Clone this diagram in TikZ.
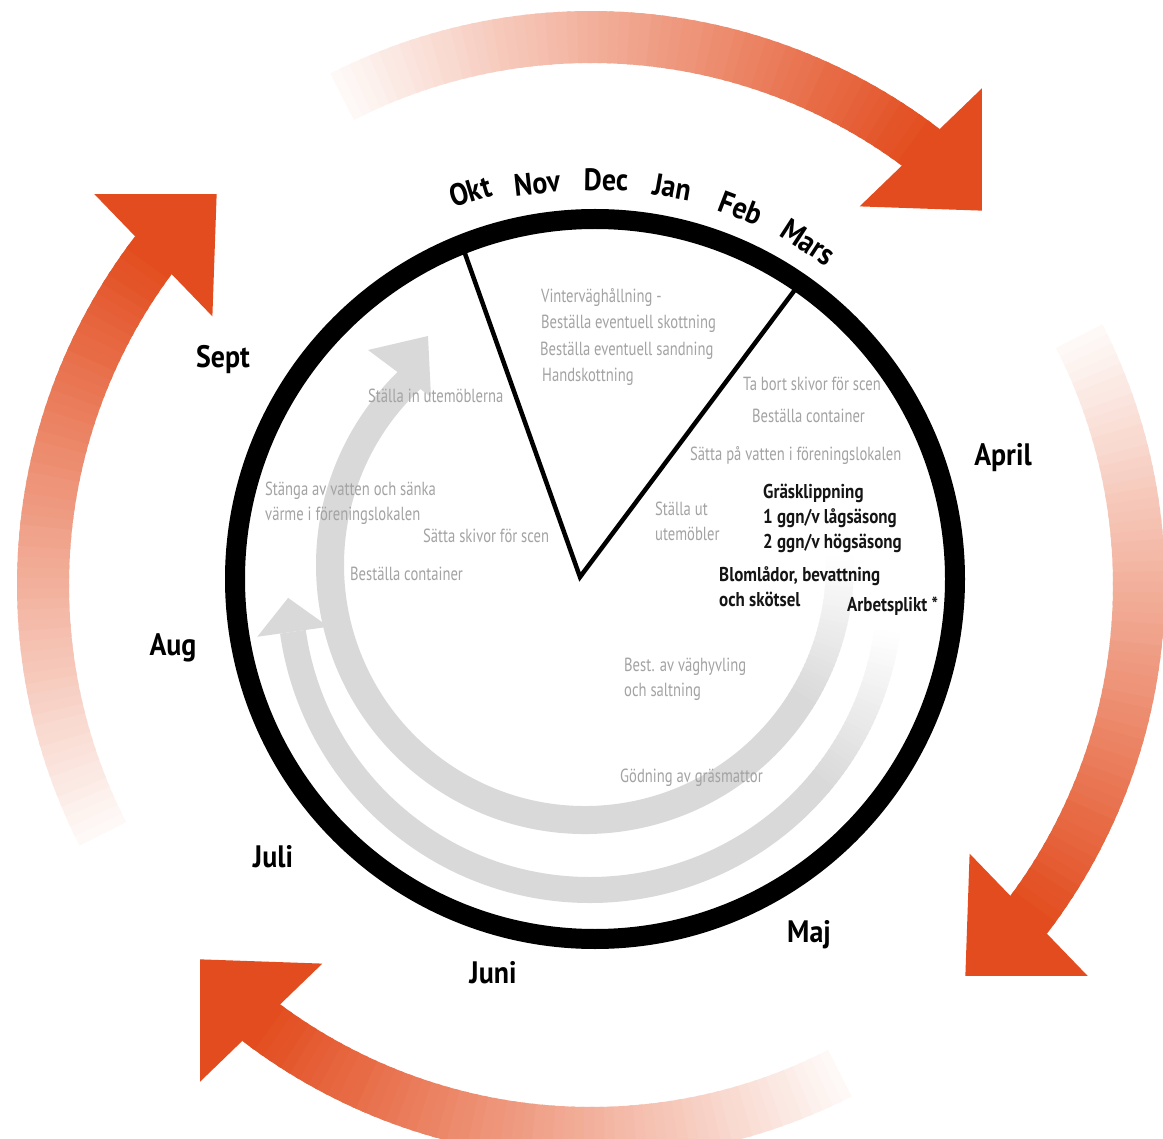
\documentclass[tikz,border=0pt]{standalone}
\usepackage{fontspec}
\usetikzlibrary{calc}
\setmainfont{PT Sans}[FakeStretch=0.77]
\newfontfamily\boldcond{PT Sans}[FakeStretch=0.85]
\newfontfamily\monthcond{PT Sans}[FakeStretch=0.9]
\definecolor{arrowc}{HTML}{E24C1E}
\definecolor{greyarrow}{HTML}{D9D9D9}
\definecolor{greytext}{HTML}{A3A3A3}
\definecolor{darktext}{HTML}{151515}
\newcommand\orangearrow[2]{%
  \foreach \i in {0,...,59}{%
    \pgfmathsetmacro{\aa}{#1+(#2-#1)*\i/60}%
    \pgfmathsetmacro{\bb}{#1+(#2-#1)*(\i+1.4)/60}%
    \pgfmathtruncatemacro{\pp}{4+96*\i/59}%
    \fill[arrowc!\pp!white] (\aa:522) arc[start angle=\aa,end angle=\bb,radius=522] -- (\bb:574) arc[start angle=\bb,end angle=\aa,radius=574] -- cycle;
  }%
  \fill[arrowc] ($(#2:548)+(#2-9:85)$) -- ($(#2:548)+(#2+171:85)$) -- ($(#2:548)+(#2-99:88)$) -- cycle;
}
\tikzset{
  greylbl/.style={text=greytext, font=\fontsize{19}{22}\selectfont, inner sep=0pt, anchor=base west},
  boldlbl/.style={text=darktext, font=\boldcond\bfseries\fontsize{20}{23}\selectfont, inner sep=0pt, anchor=base west},
  month/.style={text=black, font=\monthcond\bfseries\fontsize{31}{34}\selectfont, inner sep=0pt},
  ring/.style={line width=20pt, draw=black},
  pieline/.style={line width=4.5pt, draw=black},
}
\begin{document}
\begin{tikzpicture}[x=1pt,y=-1pt]
\useasboundingbox (0,0) rectangle (1163,1139);
\fill[white] (0,0) rectangle (1163,1139);
% outer orange arrows
\begin{scope}[shift={(591,585)}, yscale=-1]
  \orangearrow{117}{53}
  \orangearrow{27}{-37}
  \orangearrow{-63}{-127}
  \orangearrow{207}{143}
\end{scope}
% inner grey arrows
\begin{scope}[shift={(590,590)}, yscale=-1]
  \foreach \i in {0,...,29}{%
    \pgfmathsetmacro{\aa}{-8-32*\i/30}%
    \pgfmathsetmacro{\bb}{-8-32*(\i+1.4)/30}%
    \pgfmathtruncatemacro{\pp}{3+97*\i/29}%
    \fill[greyarrow!\pp!white] (\aa:287) arc[start angle=\aa,end angle=\bb,radius=287] -- (\bb:313) arc[start angle=\bb,end angle=\aa,radius=313] -- cycle;
  }
  \draw[greyarrow, line width=26pt] (-40:300) arc[start angle=-40, end angle=-172, radius=300];
  \fill[greyarrow] (-172:264) -- (-172:336) -- (-178.5:302) -- cycle;
\end{scope}
\begin{scope}[shift={(585,565)}, yscale=-1]
  \foreach \i in {0,...,29}{%
    \pgfmathsetmacro{\aa}{2-34*\i/30}%
    \pgfmathsetmacro{\bb}{2-34*(\i+1.4)/30}%
    \pgfmathtruncatemacro{\pp}{3+97*\i/29}%
    \fill[greyarrow!\pp!white] (\aa:241) arc[start angle=\aa,end angle=\bb,radius=241] -- (\bb:269) arc[start angle=\bb,end angle=\aa,radius=269] -- cycle;
  }
  \draw[greyarrow, line width=28pt] (-32:255) arc[start angle=-32, end angle=-227.5, radius=255];
\end{scope}
\coordinate (ihl) at (368,350);
\coordinate (ihr) at (431,397);
\coordinate (iht) at (428,336);
\fill[greyarrow] (ihl) -- (ihr) -- (iht) -- cycle;
% ring and pie
\draw[ring] (595,579) circle[radius=360];
\coordinate (oktend) at (463,248);
\coordinate (hub) at (580,577);
\coordinate (marsend) at (797,287);
\draw[pieline, line join=miter] (oktend) -- (hub) -- (marsend);
% months
\node[month, rotate=17] (okt) at (470,191) {Okt};
\node[month, rotate=6] (nov) at (537,183) {Nov};
\node[month, rotate=-1] (dec) at (606,180) {Dec};
\node[month, rotate=-10] (jan) at (672,187) {Jan};
\node[month, rotate=-21] (feb) at (741,208) {Feb};
\node[month, rotate=-33] (mars) at (808,242) {Mars};
\node[month] (sept) at (223,360) {Sept};
\node[month] (april) at (1003,458) {April};
\node[month] (aug) at (173,648) {Aug};
\node[month] (juli) at (273,857) {Juli};
\node[month] (juni) at (493,973) {Juni};
\node[month] (maj) at (809,935) {Maj};
% grey texts
\node[greylbl] (v1) at (541,303) {Vinterväghållning -};
\node[greylbl] (v2) at (541,329) {Beställa eventuell skottning};
\node[greylbl] (v3) at (540,356) {Beställa eventuell sandning};
\node[greylbl] (v4) at (542,382) {Handskottning};
\node[greylbl] (a1) at (743,391) {Ta bort skivor för scen};
\node[greylbl] (a2) at (752,423) {Beställa container};
\node[greylbl] (a3) at (690,461) {Sätta på vatten i föreningslokalen};
\node[greylbl] (a4) at (655,516) {Ställa ut};
\node[greylbl] (a5) at (655,541) {utemöbler};
\node[greylbl] (s1) at (368,403) {Ställa in utemöblerna};
\node[greylbl] (s2) at (265,496) {Stänga av vatten och sänka};
\node[greylbl] (s3) at (265,521) {värme i föreningslokalen};
\node[greylbl] (s4) at (423,543) {Sätta skivor för scen};
\node[greylbl] (s5) at (350,580) {Beställa container};
\node[greylbl] (m1) at (624,671) {Best. av väghyvling};
\node[greylbl] (m2) at (624,696) {och saltning};
\node[greylbl] (m3) at (620,782) {Gödning av gräsmattor};
% bold texts
\node[boldlbl] (g1) at (763,499) {Gräsklippning};
\node[boldlbl] (g2) at (763,524) {1 ggn/v lågsäsong};
\node[boldlbl] (g3) at (763,549) {2 ggn/v högsäsong};
\node[boldlbl] (b1) at (719,581) {Blomlådor, bevattning};
\node[boldlbl] (b2) at (719,606) {och skötsel};
\node[boldlbl] (ap) at (847,612) {Arbetsplikt *};
\end{tikzpicture}
\end{document}
